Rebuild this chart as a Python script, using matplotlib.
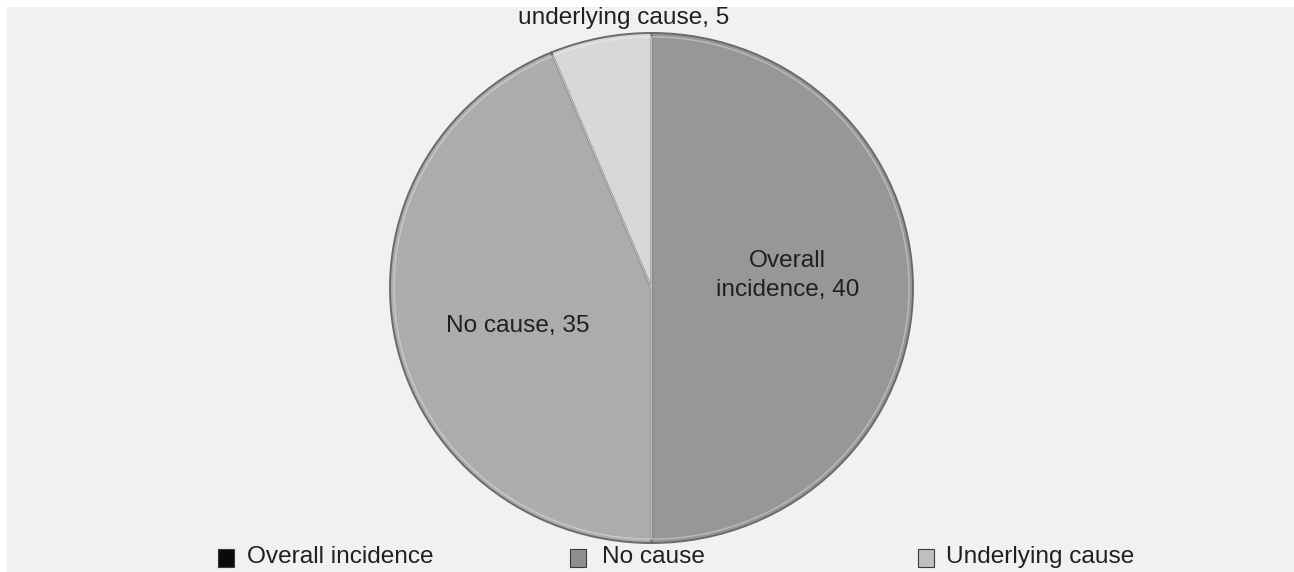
import matplotlib
matplotlib.use("Agg")
import matplotlib.pyplot as plt
from matplotlib.patches import Rectangle

# ---- data -------------------------------------------------------------
categories = ["Overall incidence", "No cause", "Underlying cause"]
values = [40, 35, 5]
slice_labels = ["Overall\nincidence, 40", "No cause, 35", "underlying cause, 5"]

SLICE_COLORS = ["#979797", "#acacac", "#d8d8d8"]
LEGEND_COLORS = ["#0a0a0a", "#8e8e8e", "#bfbfbf"]
BG = "#f1f1f1"
INK = "#231f20"
FONT = "Liberation Sans"
FS = 17.6

W, H = 1294, 572
fig = plt.figure(figsize=(W / 100, H / 100), dpi=100)
fig.patch.set_facecolor("white")

# grey chart area, inset from the top/left border
fig.patches.append(Rectangle((7 / W, 0), 1, (H - 7) / H, transform=fig.transFigure,
                             facecolor=BG, edgecolor="none", zorder=-10))


def box(x0, y0, x1, y1):
    """pixel box (top-left origin) -> figure rect"""
    return [x0 / W, (H - y1) / H, (x1 - x0) / W, (y1 - y0) / H]


ax = fig.add_axes(box(390, 33, 913, 543))
wedges, _ = ax.pie(values, colors=SLICE_COLORS, startangle=90, counterclock=False,
                   radius=1.0,
                   wedgeprops=dict(edgecolor="#6a6a6a", linewidth=1.4))
ax.set_aspect("auto")
ax.set_xlim(-1.0, 1.0)
ax.set_ylim(-1.0, 1.0)
ax.patch.set_alpha(0)

# faint inner rim, a cheap stand-in for the bevel highlight
ax.pie(values, colors=["none"] * 3, startangle=90, counterclock=False, radius=0.985,
       wedgeprops=dict(edgecolor="white", linewidth=1.0, alpha=0.35))
ax.set_aspect("auto")
ax.set_xlim(-1.0, 1.0)
ax.set_ylim(-1.0, 1.0)

ax.text(0.52, 0.05, slice_labels[0], ha="center", va="center", fontsize=FS,
        family=FONT, color=INK, linespacing=1.4)
ax.text(-0.51, -0.15, slice_labels[1], ha="center", va="center", fontsize=FS,
        family=FONT, color=INK)
fig.text(624 / W, (H - 18) / H, slice_labels[2], ha="center", va="center",
         fontsize=FS, family=FONT, color=INK)

# legend along the bottom
marker_x = [218, 570, 918]
text_x = [247, 602, 946]
for c, col, mx, tx in zip(categories, LEGEND_COLORS, marker_x, text_x):
    fig.patches.append(Rectangle((mx / W, (H - 567) / H), 16 / W, 18 / H,
                                 transform=fig.transFigure, facecolor=col,
                                 edgecolor="#3a3a3a", linewidth=0.8, zorder=3))
    fig.text(tx / W, (H - 557) / H, c, ha="left", va="center", fontsize=FS,
             family=FONT, color=INK)

fig.savefig("out.png", dpi=100, facecolor=fig.get_facecolor())
